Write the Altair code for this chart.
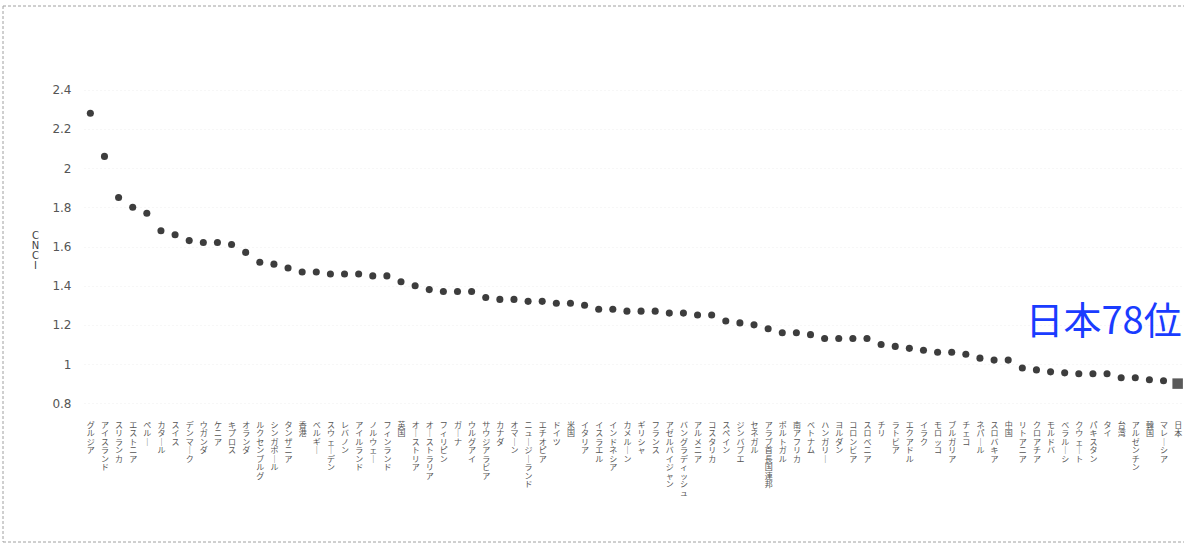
import altair as alt
import pandas as pd

# Countries ranked by CNCI (category normalised citation impact)
countries = [
    "グルジア", "アイスランド", "スリランカ", "エストニア", "ペルー", "カタール", "スイス",
    "デンマーク", "ウガンダ", "ケニア", "キプロス", "オランダ", "ルクセンブルグ", "シンガポール",
    "タンザニア", "香港", "ベルギー", "スウェーデン", "レバノン", "アイルランド", "ノルウェー",
    "フィンランド", "英国", "オーストリア", "オーストラリア", "フィリピン", "ガーナ", "ウルグアイ",
    "サウジアラビア", "カナダ", "オマーン", "ニュージーランド", "エチオピア", "ドイツ", "米国",
    "イタリア", "イスラエル", "インドネシア", "カメルーン", "ギリシャ", "フランス",
    "アゼルバイジャン", "バングラディッシュ", "アルメニア", "コスタリカ", "スペイン", "ジンバブエ",
    "セネガル", "アラブ首長国連邦", "ポルトガル", "南アフリカ", "ベトナム", "ハンガリー", "ヨルダン",
    "コロンビア", "スロベニア", "チリ", "ラトビア", "エクアドル", "イラク", "モロッコ", "ブルガリア",
    "チェコ", "ネパール", "スロバキア", "中国", "リトアニア", "クロアチア", "モルドバ", "ベラルーシ",
    "クウェート", "パキスタン", "タイ", "台湾", "アルゼンチン", "韓国", "マレーシア", "日本",
]

cnci = [
    2.28, 2.06, 1.85, 1.80, 1.77, 1.68, 1.66, 1.63, 1.62, 1.62, 1.61, 1.57, 1.52, 1.51,
    1.49, 1.47, 1.47, 1.46, 1.46, 1.46, 1.45, 1.45, 1.42, 1.40, 1.38, 1.37, 1.37, 1.37,
    1.34, 1.33, 1.33, 1.32, 1.32, 1.31, 1.31, 1.30, 1.28, 1.28, 1.27, 1.27, 1.27, 1.26,
    1.26, 1.25, 1.25, 1.22, 1.21, 1.20, 1.18, 1.16, 1.16, 1.15, 1.13, 1.13, 1.13, 1.13,
    1.10, 1.09, 1.08, 1.07, 1.06, 1.06, 1.05, 1.03, 1.02, 1.02, 0.98, 0.97, 0.96, 0.955,
    0.95, 0.95, 0.95, 0.93, 0.93, 0.92, 0.915, 0.90,
]

y_ticks = [0.8, 1.0, 1.2, 1.4, 1.6, 1.8, 2.0, 2.2, 2.4]
highlight = "日本"
annotation = "日本78位"

df = pd.DataFrame({
    "country": countries,
    "cnci": cnci,
    "kind": ["japan" if c == highlight else "other" for c in countries],
})

FONT = "Noto Sans CJK JP"

x_enc = alt.X(
    "country:N",
    sort=None,
    scale=alt.Scale(type="point", padding=0.45),
    axis=alt.Axis(
        title=None,
        domain=False,
        ticks=False,
        grid=False,
        labelAngle=0,
        labelAlign="center",
        labelBaseline="top",
        labelPadding=8,
        labelFont=FONT,
        labelFontSize=8,
        labelLineHeight=8.5,
        labelColor="#555555",
        labelOverlap=False,
        labelLimit=0,
        # vertical writing: one character per line, long-vowel mark turned upright
        labelExpr="split(replace(datum.label, regexp('ー', 'g'), '｜'), '')",
    ),
)

y_enc = alt.Y(
    "cnci:Q",
    scale=alt.Scale(domain=[0.75, 2.45], nice=False, zero=False),
    axis=alt.Axis(
        title=["C", "N", "C", "I"],
        titleAngle=0,
        titleAlign="center",
        titleBaseline="top",
        titleX=-49,
        titleY=150,
        titleFont="DejaVu Sans",
        titleFontSize=10,
        titleFontWeight="normal",
        titleColor="#444444",
        titleLineHeight=10,
        values=y_ticks,
        format="~g",
        domain=False,
        ticks=False,
        labelPadding=13,
        labelFont="DejaVu Sans",
        labelFontSize=12,
        labelColor="#555555",
        grid=True,
        gridColor="#eeeeee",
        gridDash=[1, 3],
    ),
)

points = alt.Chart(df).mark_point(filled=True, opacity=1).encode(
    x=x_enc,
    y=y_enc,
    shape=alt.Shape("kind:N", scale=alt.Scale(domain=["other", "japan"], range=["circle", "square"]), legend=None),
    color=alt.Color("kind:N", scale=alt.Scale(domain=["other", "japan"], range=["#3d3d3d", "#5a5a5a"]), legend=None),
    size=alt.Size("kind:N", scale=alt.Scale(domain=["other", "japan"], range=[50, 110]), legend=None),
)

label = alt.Chart(pd.DataFrame({"country": [highlight], "text": [annotation]})).mark_text(
    align="right",
    baseline="middle",
    dx=4,
    font=FONT,
    fontSize=38,
    color="#1a3cff",
).encode(
    x=alt.X("country:N", sort=None),
    y=alt.datum(1.21),
    text="text:N",
)

# thin dashed page frame: top, left and bottom edges
frame_base = alt.Chart(pd.DataFrame({"a": [0]})).mark_rule(
    stroke="#a0a0a0", strokeWidth=1, strokeDash=[3, 2]
)
frame_top = frame_base.encode(x=alt.value(-81), x2=alt.value(1100), y=alt.value(-74))
frame_left = frame_base.encode(x=alt.value(-81), y=alt.value(-74), y2=alt.value(462))
frame_bottom = frame_base.encode(x=alt.value(-81), x2=alt.value(1100), y=alt.value(462))

chart = alt.layer(frame_top, frame_left, frame_bottom, points, label).properties(
    width=1100,
    height=333,
    autosize=alt.AutoSizeParams(type="none"),
    padding={"left": 84, "top": 80, "right": 0, "bottom": 134},
    background="white",
).configure_view(strokeWidth=0)

chart.save("out.html", embed_options={"renderer": "svg", "actions": False})
